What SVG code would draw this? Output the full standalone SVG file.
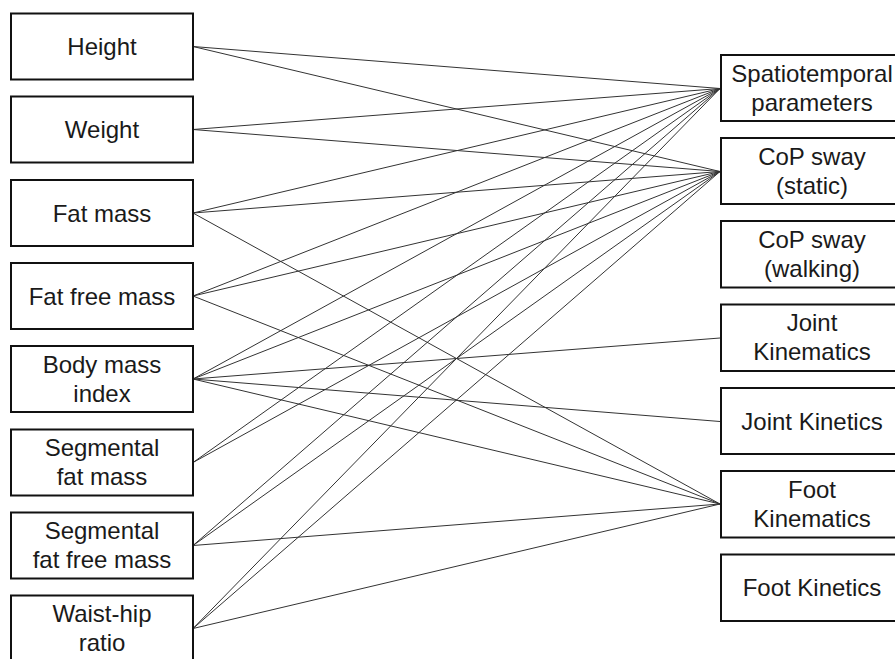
<svg xmlns="http://www.w3.org/2000/svg" width="895" height="659" viewBox="0 0 895 659">
<style>
.box{fill:#fff;stroke:#111;stroke-width:2}
.t{font-family:"Liberation Sans",Arial,sans-serif;font-size:24px;fill:#1a1a1a;text-anchor:middle}
.c line{stroke:#333;stroke-width:1}
</style>
<rect width="895" height="659" fill="#fff"/>
<g class="c" id="connectors">
<line x1="193" y1="46.5" x2="720" y2="88.5"/>
<line x1="193" y1="46.5" x2="720" y2="171.5"/>
<line x1="193" y1="129.5" x2="720" y2="88.5"/>
<line x1="193" y1="129.5" x2="720" y2="171.5"/>
<line x1="193" y1="213" x2="720" y2="88.5"/>
<line x1="193" y1="213" x2="720" y2="171.5"/>
<line x1="193" y1="213" x2="720" y2="504"/>
<line x1="193" y1="296" x2="720" y2="88.5"/>
<line x1="193" y1="296" x2="720" y2="171.5"/>
<line x1="193" y1="296" x2="720" y2="504"/>
<line x1="193" y1="379" x2="720" y2="88.5"/>
<line x1="193" y1="379" x2="720" y2="171.5"/>
<line x1="193" y1="379" x2="720" y2="338"/>
<line x1="193" y1="379" x2="720" y2="421.5"/>
<line x1="193" y1="379" x2="720" y2="504"/>
<line x1="193" y1="462.5" x2="720" y2="88.5"/>
<line x1="193" y1="462.5" x2="720" y2="171.5"/>
<line x1="193" y1="545.5" x2="720" y2="88.5"/>
<line x1="193" y1="545.5" x2="720" y2="171.5"/>
<line x1="193" y1="545.5" x2="720" y2="504"/>
<line x1="193" y1="628.5" x2="720" y2="88.5"/>
<line x1="193" y1="628.5" x2="720" y2="171.5"/>
<line x1="193" y1="628.5" x2="720" y2="504"/>
</g>
<g id="height"><rect class="box" x="11" y="13.5" width="182" height="66"/><text class="t" x="102" y="55">Height</text></g>
<g id="weight"><rect class="box" x="11" y="96.5" width="182" height="66"/><text class="t" x="102" y="138">Weight</text></g>
<g id="fatmass"><rect class="box" x="11" y="180" width="182" height="66"/><text class="t" x="102" y="222">Fat mass</text></g>
<g id="fatfreemass"><rect class="box" x="11" y="263" width="182" height="66"/><text class="t" x="102" y="305">Fat free mass</text></g>
<g id="bmi"><rect class="box" x="11" y="346" width="182" height="66"/><text class="t" x="102" y="373">Body mass</text><text class="t" x="102" y="402">index</text></g>
<g id="segfatmass"><rect class="box" x="11" y="429.5" width="182" height="66"/><text class="t" x="102" y="456">Segmental</text><text class="t" x="102" y="485">fat mass</text></g>
<g id="segfatfreemass"><rect class="box" x="11" y="512.5" width="182" height="66"/><text class="t" x="102" y="539">Segmental</text><text class="t" x="102" y="568">fat free mass</text></g>
<g id="waisthip"><rect class="box" x="11" y="595.5" width="182" height="66"/><text class="t" x="102" y="622">Waist-hip</text><text class="t" x="102" y="651">ratio</text></g>
<g id="spatiotemporal"><rect class="box" x="721" y="55" width="182" height="66"/><text class="t" x="812" y="82">Spatiotemporal</text><text class="t" x="812" y="111">parameters</text></g>
<g id="copstatic"><rect class="box" x="721" y="138" width="182" height="66"/><text class="t" x="812" y="165">CoP sway</text><text class="t" x="812" y="194">(static)</text></g>
<g id="copwalking"><rect class="box" x="721" y="221" width="182" height="66.5"/><text class="t" x="812" y="248">CoP sway</text><text class="t" x="812" y="277">(walking)</text></g>
<g id="jointkinematics"><rect class="box" x="721" y="304.5" width="182" height="66.5"/><text class="t" x="812" y="331">Joint</text><text class="t" x="812" y="360">Kinematics</text></g>
<g id="jointkinetics"><rect class="box" x="721" y="388" width="182" height="66"/><text class="t" x="812" y="430">Joint Kinetics</text></g>
<g id="footkinematics"><rect class="box" x="721" y="471" width="182" height="66.5"/><text class="t" x="812" y="498">Foot</text><text class="t" x="812" y="527">Kinematics</text></g>
<g id="footkinetics"><rect class="box" x="721" y="554.5" width="182" height="66.5"/><text class="t" x="812" y="596">Foot Kinetics</text></g>
</svg>
